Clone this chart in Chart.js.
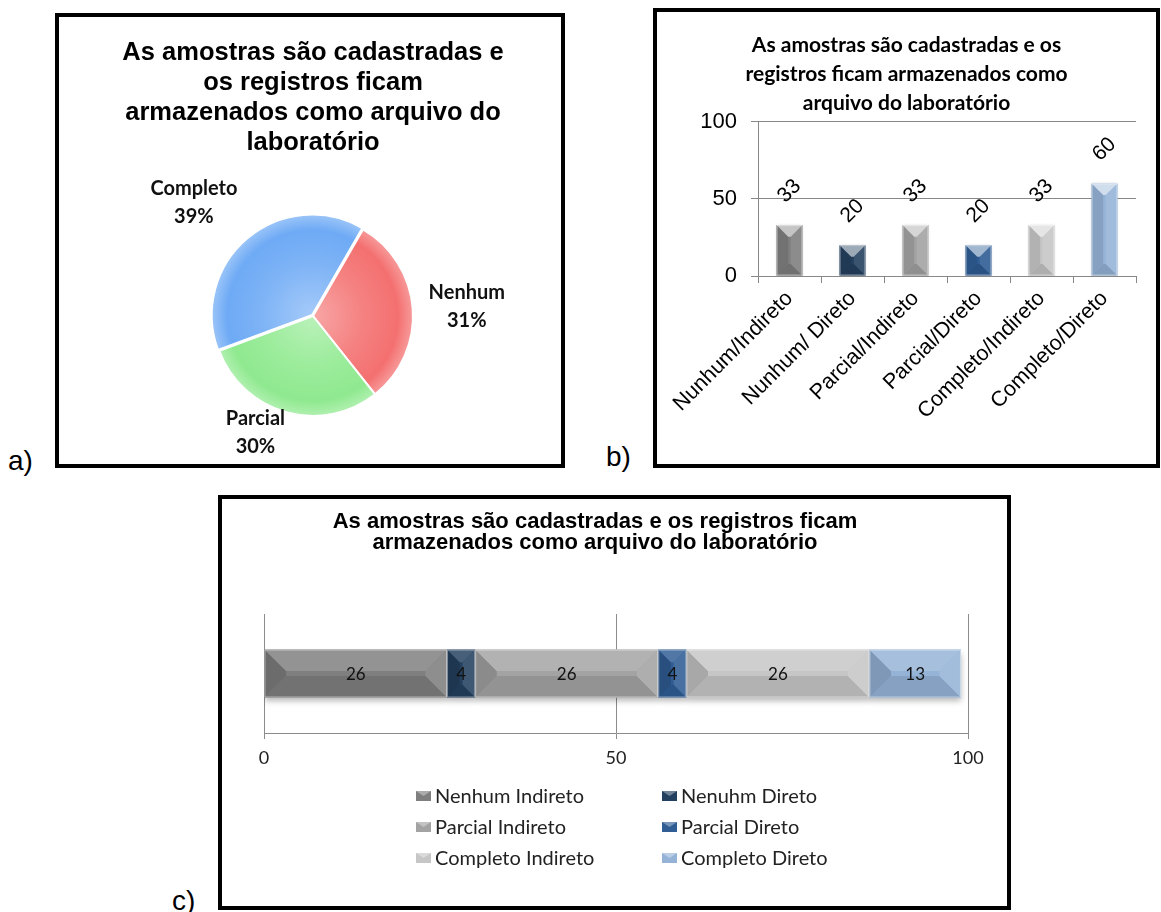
<!DOCTYPE html>
<html>
<head>
<meta charset="utf-8">
<script src="https://cdn.jsdelivr.net/npm/chart.js@4.4.0/dist/chart.umd.min.js"></script>
<style>
  html, body { margin: 0; padding: 0; background: #fff; width: 1161px; height: 912px; overflow: hidden; }
  .panel { position: absolute; border: 4px solid #000; box-sizing: border-box; background: #fff; }
  .panel canvas { display: block; }
  .tag { position: absolute; font-family: 'Liberation Sans', Arial, sans-serif; font-size: 28px; line-height: 30px; color: #000; }
</style>
</head>
<body>
<div class="tag" style="left:8px;top:446px">a)</div>
<div class="tag" style="left:606px;top:442px">b)</div>
<div class="tag" style="left:172px;top:886px">c)</div>

<div class="panel" style="left:55px;top:13px;width:510px;height:455px"><canvas id="chartA" width="502" height="447"></canvas></div>
<div class="panel" style="left:653px;top:8px;width:507px;height:460px"><canvas id="chartB" width="499" height="452"></canvas></div>
<div class="panel" style="left:218px;top:495px;width:793px;height:415px"><canvas id="chartC" width="785" height="407"></canvas></div>

<script>
// ---------- data ----------
const titleA = ['As amostras são cadastradas e', 'os registros ficam', 'armazenados como arquivo do', 'laboratório'];
const pieLabels = ['Nenhum', 'Parcial', 'Completo'];
const pieValues = [31, 30, 39];

const titleB = ['As amostras são cadastradas e os', 'registros ficam armazenados como', 'arquivo do laboratório'];
const barLabels = ['Nunhum/Indireto', 'Nunhum/ Direto', 'Parcial/Indireto', 'Parcial/Direto', 'Completo/Indireto', 'Completo/Direto'];
const barValues = [33, 20, 33, 20, 33, 60];
const barAxisTicks = [0, 50, 100];

const titleC = ['As amostras são cadastradas e os registros ficam', 'armazenados como arquivo do laboratório'];
const stackLabels = ['Nenhum Indireto', 'Nenuhm Direto', 'Parcial Indireto', 'Parcial Direto', 'Completo Indireto', 'Completo Direto'];
const stackValues = [26, 4, 26, 4, 26, 13];
const stackAxisTicks = [0, 50, 100];

// ---------- colours ----------
const pieColors = ['#f47070', '#8fe98f', '#6eaaf5'];
const seriesColors = ['#7f7f7f', '#24405f', '#a3a3a3', '#2f5d94', '#c6c6c6', '#95b3d7'];

function rgbOf(hex) { const n = parseInt(hex.slice(1), 16); return [(n >> 16) & 255, (n >> 8) & 255, n & 255]; }
function shade(hex, t) { // t > 0 lightens, t < 0 darkens
  const target = t > 0 ? 255 : 0, k = Math.abs(t);
  return 'rgb(' + rgbOf(hex).map(v => Math.round(v + (target - v) * k)).join(',') + ')';
}

Chart.defaults.animation = false;
Chart.defaults.plugins.tooltip.enabled = false;
Chart.defaults.plugins.legend.display = false;

// ---------- bar styling: soft shadow, bevelled facets, value labels ----------
function barRect(el) {
  const p = el.getProps(['x', 'y', 'base', 'width', 'height', 'horizontal'], true);
  if (p.horizontal) {
    return { L: Math.min(p.x, p.base), R: Math.max(p.x, p.base), T: p.y - p.height / 2, B: p.y + p.height / 2 };
  }
  return { L: p.x - p.width / 2, R: p.x + p.width / 2, T: Math.min(p.y, p.base), B: Math.max(p.y, p.base) };
}
function poly(ctx, pts, fill) {
  ctx.beginPath();
  ctx.moveTo(pts[0][0], pts[0][1]);
  for (let i = 1; i < pts.length; i++) ctx.lineTo(pts[i][0], pts[i][1]);
  ctx.closePath();
  ctx.fillStyle = fill;
  ctx.fill();
}
const barStyle = {
  id: 'barStyle',
  beforeDatasetsDraw(chart, args, o) {
    const ctx = chart.ctx;
    ctx.save();
    ctx.shadowColor = 'rgba(0,0,0,0.28)';
    ctx.shadowBlur = o.shadowBlur;
    ctx.shadowOffsetY = o.shadowY;
  },
  afterDatasetsDraw(chart, args, o) {
    const ctx = chart.ctx;
    ctx.restore();
    ctx.save();
    chart.data.datasets.forEach((ds, di) => {
      const meta = chart.getDatasetMeta(di);
      meta.data.forEach((el, i) => {
        const { L, R, T, B } = barRect(el);
        const w = R - L, h = B - T;
        if (w <= 0 || h <= 0) return;
        const base = Array.isArray(ds.backgroundColor) ? ds.backgroundColor[i] : ds.backgroundColor;
        const d = Math.min(w, h) / 2 * o.depth;
        const f = o.facets;
        poly(ctx, [[L, B], [R, B], [R - d, B - d], [L + d, B - d]], shade(base, f.bottom));
        poly(ctx, [[L, T], [L + d, T + d], [L + d, B - d], [L, B]], shade(base, f.left));
        poly(ctx, [[R, T], [R - d, T + d], [R - d, B - d], [R, B]], shade(base, f.right));
        poly(ctx, [[L, T], [R, T], [R - d, T + d], [L + d, T + d]], shade(base, f.top));
        ctx.strokeStyle = 'rgba(255,255,255,0.45)';
        ctx.lineWidth = 1;
        ctx.strokeRect(L + 0.5, T + 0.5, w - 1, h - 1);

        // value label
        const v = ds.data[i];
        ctx.fillStyle = o.labelColor;
        ctx.font = o.labelFont;
        ctx.textAlign = 'center';
        ctx.textBaseline = 'middle';
        if (o.labelMode === 'rotated') {
          ctx.save();
          ctx.translate((L + R) / 2, T - o.labelGap);
          ctx.rotate(-Math.PI / 4);
          ctx.fillText(String(v), 0, 0);
          ctx.restore();
        } else {
          ctx.fillText(String(v), (L + R) / 2, (T + B) / 2 + 1);
        }
      });
    });
    ctx.restore();
  }
};

// ---------- a) pie ----------
const sliceLabels = {
  id: 'sliceLabels',
  afterDatasetsDraw(chart, args, o) {
    const ctx = chart.ctx;
    const data = chart.data.datasets[0].data;
    const total = data.reduce((a, b) => a + b, 0);
    ctx.save();
    ctx.font = o.font;
    ctx.fillStyle = o.color;
    ctx.textAlign = 'center';
    ctx.textBaseline = 'middle';
    chart.getDatasetMeta(0).data.forEach((arc, i) => {
      const p = arc.getProps(['x', 'y', 'startAngle', 'endAngle', 'outerRadius'], true);
      const mid = (p.startAngle + p.endAngle) / 2;
      const c = Math.cos(mid), s = Math.sin(mid);
      const lines = [chart.data.labels[i], Math.round(data[i] / total * 100) + '%'];
      const w = Math.max(...lines.map(t => ctx.measureText(t).width));
      const h = lines.length * o.lineHeight;
      const r = p.outerRadius + o.gap;
      const n = o.nudge[i] || [0, 0];
      const cx = p.x + c * r + c * w / 2 + n[0];
      const cy = p.y + s * r + s * h / 2 + n[1];
      lines.forEach((t, k) => ctx.fillText(t, cx, cy - h / 2 + o.lineHeight * (k + 0.5)));
    });
    ctx.restore();
  }
};

function glossy(context) {
  const chart = context.chart;
  const base = pieColors[context.dataIndex];
  const a = chart.chartArea;
  if (!a) return base;
  const cx = (a.left + a.right) / 2, cy = (a.top + a.bottom) / 2;
  const r = 100;
  const g = chart.ctx.createRadialGradient(cx, cy, 0, cx, cy, r);
  g.addColorStop(0, shade(base, 0.38));
  g.addColorStop(0.5, shade(base, 0.12));
  g.addColorStop(0.85, base);
  g.addColorStop(1, shade(base, 0.3));
  return g;
}

new Chart(document.getElementById('chartA'), {
  type: 'pie',
  data: {
    labels: pieLabels,
    datasets: [{
      data: pieValues,
      backgroundColor: glossy,
      borderColor: '#ffffff',
      borderWidth: 2,
      hoverBorderWidth: 2,
      offset: [0, 0, 5],
      hoverOffset: 0,
      radius: 100
    }]
  },
  options: {
    responsive: false,
    rotation: 30,
    layout: { padding: { left: 6, right: 0, top: 0, bottom: 44.5 } },
    plugins: {
      title: {
        display: true,
        text: titleA,
        color: '#000',
        font: { family: "'Liberation Sans', Arial, sans-serif", size: 25.5, weight: 'bold', lineHeight: '30px' },
        padding: { top: 21, bottom: 54.5 }
      },
      sliceLabels: {
        font: "bold 20px Lato, 'Open Sans', sans-serif",
        color: '#111',
        lineHeight: 28,
        gap: 10,
        nudge: [[6, 1], [-20, -16], [-20, -8]]
      }
    }
  },
  plugins: [sliceLabels]
});

// ---------- b) column chart ----------
new Chart(document.getElementById('chartB'), {
  type: 'bar',
  data: {
    labels: barLabels,
    datasets: [{
      data: barValues,
      backgroundColor: seriesColors,
      borderWidth: 0,
      barPercentage: 0.41,
      categoryPercentage: 1
    }]
  },
  options: {
    responsive: false,
    layout: { padding: 0 },
    scales: {
      x: {
        grid: { display: true, drawOnChartArea: false, drawTicks: true, tickLength: 7, color: '#888', offset: true },
        border: { display: true, color: '#888' },
        ticks: {
          autoSkip: false, minRotation: 45, maxRotation: 45, padding: 3, color: '#000',
          font: { family: "'Liberation Sans', Arial, sans-serif", size: 21.5 }
        },
        afterFit(s) { s.height = 188; }
      },
      y: {
        min: barAxisTicks[0],
        max: barAxisTicks[barAxisTicks.length - 1],
        afterBuildTicks(s) { s.ticks = barAxisTicks.map(v => ({ value: v })); },
        grid: { color: '#888', tickLength: 7 },
        border: { display: true, color: '#888' },
        ticks: { padding: 14, color: '#000', font: { family: "'Liberation Sans', Arial, sans-serif", size: 22 } },
        afterFit(s) { s.width = 101; }
      },
      yRight: {
        position: 'right',
        display: true,
        grid: { display: false },
        border: { display: false },
        ticks: { display: false },
        afterFit(s) { s.width = 20; }
      }
    },
    plugins: {
      title: {
        display: true,
        text: titleB,
        color: '#000',
        font: { family: "Lato, 'Open Sans', sans-serif", size: 21, weight: 'bold', lineHeight: '29px' },
        padding: { top: 18.5, bottom: 4.2 }
      },
      barStyle: {
        depth: 0.9,
        facets: { top: 0.55, bottom: -0.12, left: -0.1, right: 0.1 },
        shadowBlur: 3, shadowY: 1,
        labelMode: 'rotated', labelGap: 34,
        labelFont: "21px 'Liberation Sans', Arial, sans-serif", labelColor: '#000'
      }
    }
  },
  plugins: [barStyle]
});

// ---------- c) stacked bar ----------
const gridLegend = {
  id: 'gridLegend',
  afterDraw(chart, args, o) {
    const ctx = chart.ctx;
    ctx.save();
    ctx.font = o.font;
    ctx.textAlign = 'left';
    ctx.textBaseline = 'middle';
    chart.data.datasets.forEach((ds, i) => {
      const col = i % o.columns, row = Math.floor(i / o.columns);
      const x = o.x + col * o.colStep, y = o.y + row * o.rowStep;
      const c = ds.backgroundColor;
      ctx.fillStyle = c;
      ctx.fillRect(x, y - o.boxH / 2, o.boxW, o.boxH);
      poly(ctx, [[x, y - o.boxH / 2], [x + o.boxW, y - o.boxH / 2], [x + o.boxW / 2, y]], shade(c, 0.35));
      ctx.fillStyle = o.color;
      ctx.fillText(ds.label, x + o.boxW + o.gap, y + 1);
    });
    ctx.restore();
  }
};

new Chart(document.getElementById('chartC'), {
  type: 'bar',
  data: {
    labels: [''],
    datasets: stackLabels.map((name, i) => ({
      label: name,
      data: [stackValues[i]],
      backgroundColor: seriesColors[i],
      borderWidth: 0,
      barPercentage: 0.403,
      categoryPercentage: 1
    }))
  },
  options: {
    responsive: false,
    indexAxis: 'y',
    layout: { padding: { left: 0, right: 39, top: 0, bottom: 0 } },
    scales: {
      x: {
        stacked: true,
        min: stackAxisTicks[0],
        max: stackAxisTicks[stackAxisTicks.length - 1],
        afterBuildTicks(s) { s.ticks = stackAxisTicks.map(v => ({ value: v })); },
        grid: { color: '#8c8c8c', tickLength: 6 },
        border: { display: true, color: '#8c8c8c' },
        ticks: { padding: 8, color: '#222', font: { family: "Lato, 'Open Sans', sans-serif", size: 18 } },
        afterFit(s) { s.height = 173; }
      },
      y: {
        stacked: true,
        display: true,
        grid: { display: false },
        border: { display: false },
        ticks: { display: false },
        afterFit(s) { s.width = 42; }
      }
    },
    plugins: {
      title: {
        display: true,
        text: titleC,
        color: '#000',
        font: { family: "'Liberation Sans', Arial, sans-serif", size: 22, weight: 'bold', lineHeight: '21.6px' },
        padding: { top: 11.9, bottom: 59.9 }
      },
      barStyle: {
        depth: 0.9,
        facets: { top: 0.16, bottom: -0.1, left: -0.15, right: 0.12 },
        shadowBlur: 6, shadowY: 4,
        labelMode: 'center',
        labelFont: "17px Lato, 'Open Sans', sans-serif", labelColor: '#111'
      },
      gridLegend: {
        x: 194, y: 297, colStep: 246, rowStep: 31, columns: 2,
        boxW: 15, boxH: 10, gap: 4,
        font: "20px Lato, 'Open Sans', sans-serif", color: '#222'
      }
    }
  },
  plugins: [barStyle, gridLegend]
});
</script>
</body>
</html>
